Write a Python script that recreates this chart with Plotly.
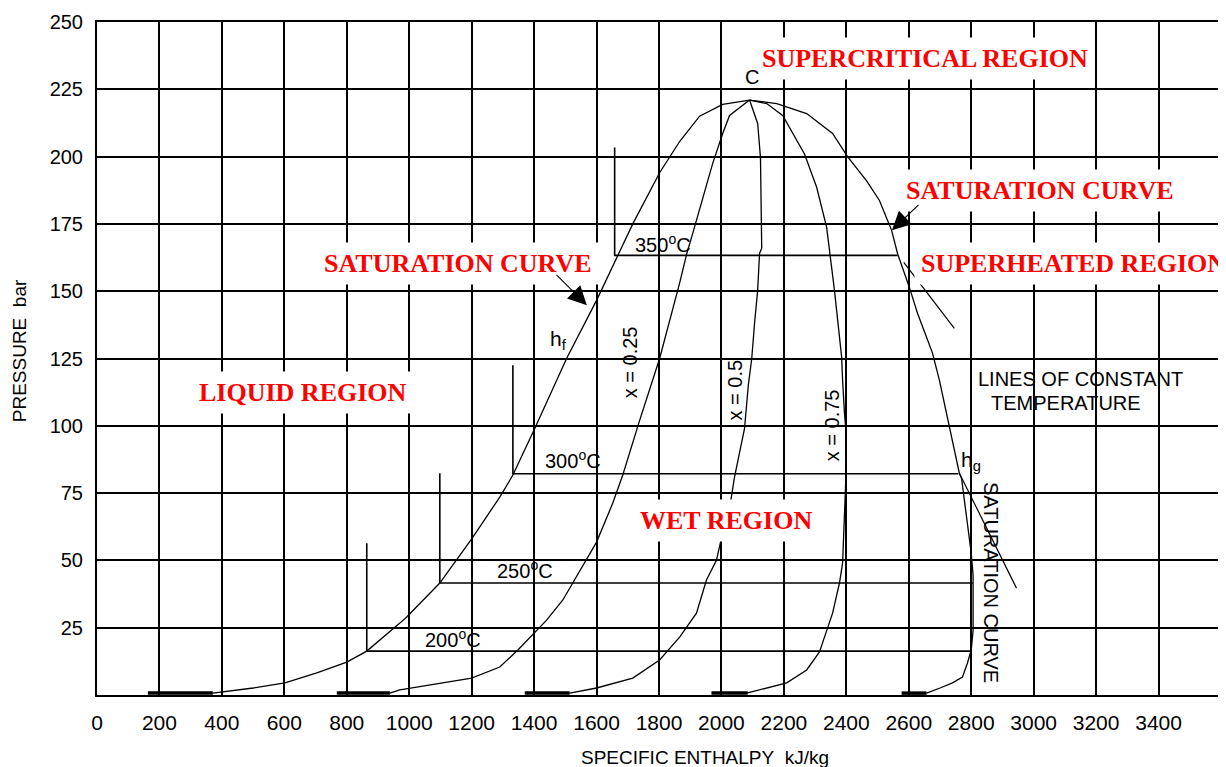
import plotly.graph_objects as go

# ---------------- data ----------------
enthalpy_ticks = list(range(0, 3401, 200))
pressure_ticks = [25, 50, 75, 100, 125, 150, 175, 200, 225, 250]

# saturated liquid line h_f
hf_h = [371, 500, 602, 704, 800, 864, 970, 992, 1098, 1200, 1290, 1332, 1402, 1504,
        1600, 1668, 1716, 1802, 1834, 1866, 1930, 2004, 2090]
hf_p = [0.7, 2.6, 4.5, 8.2, 12.2, 16.3, 26.7, 29, 41.6, 58, 73.5, 81.7, 99, 125,
        146.6, 163, 175, 194, 200, 205.6, 215, 219.4, 221]

# dryness fraction x = 0.25
x25_h = [938, 970, 1200, 1290, 1348, 1402, 1440, 1492, 1524, 1600, 1652, 1684, 1738,
         1802, 1866, 1889, 1908, 1972, 2004, 2026, 2090]
x25_p = [0.7, 1.9, 6.3, 10.4, 16.7, 23.4, 27.8, 35.3, 41.6, 56.8, 71.3, 81.7, 102,
         125, 153, 164, 171.5, 197.5, 208.6, 215.3, 221]

# dryness fraction x = 0.5
x50_h = [1514, 1600, 1716, 1802, 1866, 1920, 1952, 1984, 2000, 2029, 2042, 2074, 2086,
         2097, 2106, 2116, 2122, 2129, 2125, 2116, 2090]
x50_p = [0.7, 2.6, 6.3, 13, 21.5, 30.4, 42.7, 50, 58.3, 71.6, 81, 99, 115,
         125, 138, 150.3, 164, 166, 199.7, 212.3, 221]

# dryness fraction x = 0.75
x75_h = [2081, 2209, 2273, 2314, 2356, 2378, 2388, 2394, 2398, 2400, 2398, 2394, 2388,
         2385, 2362, 2337, 2305, 2266, 2196, 2145, 2090]
x75_p = [0.7, 4.5, 9.3, 16, 30.4, 41.6, 49, 65, 74, 85, 99, 104.7, 117,
         125.5, 150.3, 173.7, 188.6, 201, 215.3, 219.7, 221]

# saturated vapour line h_g
hg_h = [2090, 2177, 2273, 2356, 2404, 2465, 2506, 2545, 2564, 2602, 2628, 2676, 2698,
        2730, 2762, 2769, 2800, 2806, 2806, 2800, 2788, 2772, 2740, 2700, 2657]
hg_p = [221, 219.7, 216, 208.6, 200, 191, 183.7, 172.6, 164, 151.4, 141.8, 127, 117,
        99.5, 82.4, 80.5, 52.7, 44.5, 24, 16.7, 11.9, 6.7, 4.5, 2.6, 0.7]

# straight overshoot strokes of the vapour line
ext_h = [[2584, 2746], [2762, 2945]]
ext_p = [[160.7, 136.2], [82.4, 39.7]]

# heavy strokes where each curve meets the enthalpy axis
base_start = [163, 768, 1370, 1968, 2577]
base_end = [371, 938, 1514, 2084, 2657]
base_p = 0.7

# lines of constant temperature
temps = [200, 250, 300, 350]
temp_p = [16.3, 41.6, 82.2, 163.3]
temp_h_start = [864, 1098, 1332, 1658]
temp_h_end = [2800, 2805, 2759, 2564]
temp_p_top = [56.4, 82.4, 122.5, 203.4]

# ---------------- figure ----------------
fig = go.Figure()
BLACK = "#000000"

def line(xs, ys, w=1.3):
    fig.add_trace(go.Scatter(x=xs, y=ys, mode="lines", line=dict(color=BLACK, width=w),
                             hoverinfo="skip", showlegend=False))

for h, p in [(hf_h, hf_p), (x25_h, x25_p), (x50_h, x50_p), (x75_h, x75_p), (hg_h, hg_p)]:
    line(h, p, 1.3)
for h, p in zip(ext_h, ext_p):
    line(h, p, 1.2)
for s, e in zip(base_start, base_end):
    line([s, e], [base_p, base_p], 3.5)
for hs, he, p, pt in zip(temp_h_start, temp_h_end, temp_p, temp_p_top):
    line([hs, hs, he], [pt, p, p], 1.6)

RED_FONT = dict(family="Liberation Serif, Times New Roman, serif", size=26, color="#ff0000")
BLK = "Liberation Sans, Arial, sans-serif"

def red(text, x, y):
    fig.add_annotation(x=x, y=y, text="<b>" + text + "</b>", showarrow=False, font=RED_FONT,
                       bgcolor="white", borderpad=6, xanchor="center", yanchor="middle")

def blk(text, x, y, size=20, angle=0):
    fig.add_annotation(x=x, y=y, text=text, showarrow=False, textangle=angle,
                       font=dict(family=BLK, size=size, color=BLACK),
                       xanchor="center", yanchor="middle")

red("SUPERCRITICAL REGION", 2652, 236.4)
red("SATURATION CURVE", 3020, 187.5)
red("SUPERHEATED REGION", 3126, 160.2)
red("SATURATION CURVE", 1156, 160.4)
red("LIQUID REGION", 660, 112.5)
red("WET REGION", 2015, 65)

blk("C", 2098, 229.6)
temp_lbl_h = [1140, 1371, 1525, 1812]
temp_lbl_p = [21.0, 46.8, 87.6, 167.8]
for t, lx, ly in zip(temps, temp_lbl_h, temp_lbl_p):
    blk(f"{t}<sup>o</sup>C", lx, ly, size=20)
blk("h<sub>f</sub>", 1477, 131.8, size=21)
blk("h<sub>g</sub>", 2800, 86.9, size=21)
blk("x = 0.25", 1707, 123.6, angle=-90)
blk("x = 0.5", 2044, 113.2, angle=-90)
blk("x = 0.75", 2354, 100.2, angle=-90)
blk("LINES OF CONSTANT", 3149, 117.3)
blk("TEMPERATURE", 3104, 108.4)
blk("SATURATION CURVE", 2864, 41.9, angle=90)

# arrows from the red labels to the curves
for (hx, hy, tx, ty) in [(1569, 144.8, 1467, 156.6), (2546, 172.6, 2636, 182.6)]:
    fig.add_annotation(x=hx, y=hy, ax=tx, ay=ty, axref="x", ayref="y", text="",
                       showarrow=True, arrowhead=2, arrowsize=3.4, arrowwidth=1.1,
                       arrowcolor=BLACK)

# axis titles
fig.add_annotation(xref="paper", yref="paper", x=(705 - 97) / 1124, y=0, yanchor="middle",
                   yshift=-62, text="SPECIFIC ENTHALPY\u00a0\u00a0kJ/kg", showarrow=False,
                   font=dict(family=BLK, size=19, color=BLACK))
fig.add_annotation(xref="paper", yref="paper", x=0, y=(695 - 351) / 673.5, xanchor="center",
                   xshift=-78, text="PRESSURE\u00a0\u00a0bar", textangle=-90, showarrow=False,
                   font=dict(family=BLK, size=19, color=BLACK))

axis_common = dict(showgrid=True, gridcolor=BLACK, gridwidth=1.7, showline=True,
                   linecolor=BLACK, linewidth=2, mirror=True, zeroline=False, ticks="",
                   ticklabelstandoff=8, automargin=False)
fig.update_xaxes(range=[0, 3600], tickvals=enthalpy_ticks,
                 ticktext=[str(v) for v in enthalpy_ticks],
                 tickfont=dict(family=BLK, size=21, color=BLACK), **axis_common)
fig.update_yaxes(range=[0, 250], tickvals=pressure_ticks,
                 ticktext=[str(v) for v in pressure_ticks],
                 tickfont=dict(family=BLK, size=20, color=BLACK), **axis_common)

# the page body adds an 8 px offset, so the figure is sized to fit the window
fig.update_layout(width=1218, height=759,
                  margin=dict(l=89, r=5, t=13.5, b=72, autoexpand=False),
                  paper_bgcolor="white", plot_bgcolor="white", showlegend=False)

fig.write_html("out.html")
